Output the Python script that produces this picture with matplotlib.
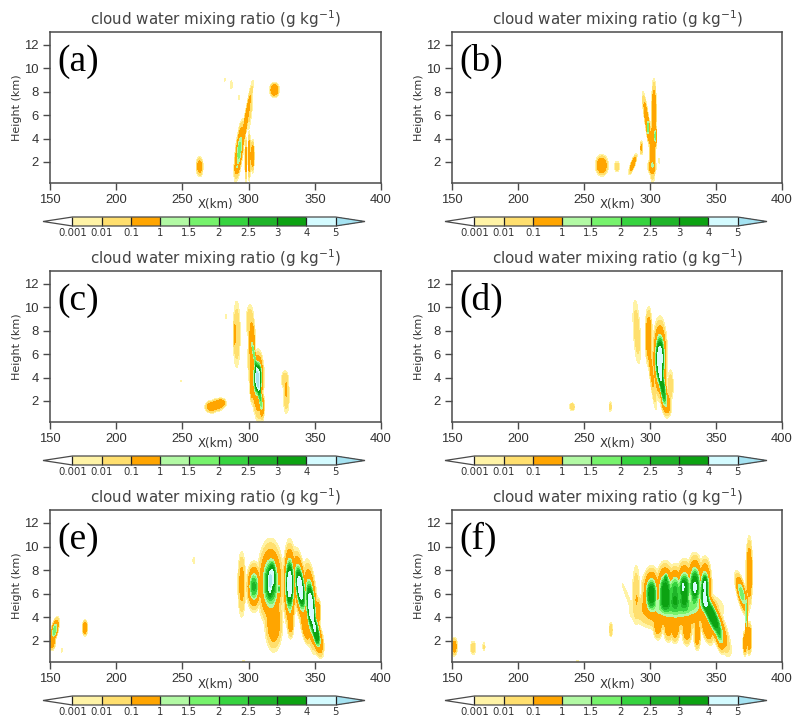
import numpy as np
import matplotlib as mpl
mpl.use('Agg')
import matplotlib.pyplot as plt

# colour bar
levels = [0.001, 0.01, 0.1, 1, 1.5, 2, 2.5, 3, 4, 5]
level_labels = ['0.001', '0.01', '0.1', '1', '1.5', '2', '2.5', '3', '4', '5']
band_colors = ['#ffffff', '#fff3a6', '#ffdf6e', '#ffa500', '#b2f9a4', '#76f26c',
               '#36d33f', '#1fb429', '#0ca212', '#d4fbff', '#a5e3f2']

panel_letters = ['(a)', '(b)', '(c)', '(d)', '(e)', '(f)']
x_ticks = [150, 200, 250, 300, 350, 400]
z_ticks = [2, 4, 6, 8, 10, 12]

# cloud cells:
# x (km), z (km), half width, half depth, peak (g/kg), tilt (km x per km z)
cells_a = [
    (263, 1.6, 1.5, 0.5, 0.25, 0),
    (319.5, 8.15, 2.0, 0.34, 0.9, 0),
    (293, 3.0, 1.6, 1.4, 1.7, 1),
    (291, 1.45, 1.2, 0.32, 0.5, 0),
    (298, 5.5, 0.9, 1.9, 0.4, 1.5),
    (301, 6.6, 1.2, 1.3, 0.02, 0.8),
    (298, 2.2, 0.4, 1.1, 0.25, 0),
    (300.5, 2.5, 0.5, 1.2, 0.4, 0),
    (303, 2.5, 0.7, 0.8, 0.4, 0),
    (282, 9.0, 0.3, 0.1, 0.005, 0),
    (287, 8.6, 0.5, 0.25, 0.01, 0),
    (293, 7.5, 0.4, 0.15, 0.005, 0),
]
cells_b = [
    (263.5, 1.7, 2.7, 0.5, 0.7, 0),
    (275, 1.6, 1.3, 0.3, 0.03, 0),
    (287, 1.8, 1.0, 0.5, 0.4, 2.9),
    (293.5, 3.2, 0.6, 0.35, 0.15, 0),
    (303, 6.2, 1.0, 1.6, 0.6, 0),
    (302, 3.0, 1.3, 1.5, 0.9, 0),
    (304, 4.2, 0.5, 0.6, 1.7, 0),
    (301.5, 1.6, 1.7, 0.4, 0.7, 0),
    (298, 5.3, 1.0, 1.5, 0.5, -1.3),
    (298.5, 4.9, 0.5, 0.6, 1.4, 0),
    (307, 2.1, 0.4, 0.15, 0.01, 0),
]
cells_c = [
    (272, 1.5, 2.8, 0.3, 0.4, 0),
    (276, 1.65, 3.0, 0.3, 0.4, 0),
    (279, 1.8, 2.3, 0.25, 0.5, 0),
    (291, 7.7, 1.7, 1.8, 0.05, 0),
    (289.5, 7.7, 0.5, 1.0, 0.15, 0),
    (283, 9.2, 0.3, 0.15, 0.004, 0),
    (301, 8.8, 1.8, 0.9, 0.05, 0),
    (302.5, 7.0, 1.4, 1.3, 0.6, 0),
    (307, 4.0, 2.4, 1.2, 4.9, 0),
    (304.5, 5.7, 0.7, 1.2, 1.6, -1.5),
    (308.5, 2.5, 1.0, 1.1, 1.9, -1),
    (305, 3.5, 2.4, 1.9, 0.6, -1),
    (310, 1.6, 1.1, 0.7, 0.6, 0),
    (302.5, 3.0, 0.8, 0.7, 0.3, 0),
    (327.5, 3.8, 1.7, 0.5, 0.05, 0),
    (328.5, 2.5, 1.4, 1.0, 0.05, 0),
    (328.5, 3.0, 0.5, 0.6, 0.15, 0),
    (249, 3.7, 0.4, 0.08, 0.003, 0),
]
cells_d = [
    (290, 7.9, 1.7, 1.8, 0.03, -0.5),
    (299, 7.5, 1.5, 1.4, 0.5, 0),
    (301, 4.7, 1.1, 2.0, 0.15, -1),
    (307.5, 5.6, 2.9, 1.8, 4.9, 0),
    (309.5, 3.2, 1.7, 1.3, 3, -1.2),
    (312, 1.9, 2.2, 0.7, 0.8, -1),
    (315.5, 3.3, 1.4, 0.9, 0.03, 0),
    (311, 3.4, 0.9, 0.7, 0.3, 0),
    (270, 1.5, 0.6, 0.3, 0.02, 0),
    (241, 1.5, 1.2, 0.2, 0.06, 0),
]
cells_e = [
    (294.8, 6.8, 1.7, 1.6, 0.2, 0),
    (304, 6.6, 3.0, 1.1, 2.6, 0),
    (316.5, 6.9, 5.2, 1.9, 3.2, 0),
    (317.8, 7.6, 2.0, 1.0, 1.7, 0),
    (316, 6.8, 1.2, 0.9, 1.7, 0),
    (323, 6.4, 0.8, 0.3, 1.7, 0),
    (319, 3.6, 3.8, 1.4, 0.5, 0),
    (331, 6.8, 2.6, 1.9, 4.8, 0),
    (331.7, 3.8, 1.5, 0.9, 0.5, 0),
    (339, 6.5, 2.7, 1.7, 4.8, -1),
    (347, 4.9, 2.7, 2.0, 4.8, -0.7),
    (351, 2.7, 2.0, 1.0, 3.4, -1),
    (353, 2.0, 2.0, 0.8, 0.8, -1),
    (343, 3.2, 2.0, 0.9, 0.5, -1.5),
    (352.5, 4.4, 1.1, 0.7, 0.5, 0),
    (258.7, 8.8, 0.6, 0.2, 0.01, 0),
    (176.4, 3.1, 1.1, 0.38, 0.5, 0),
    (153.5, 2.9, 1.5, 0.6, 1.8, 1.8),
    (151, 1.9, 1.8, 0.4, 0.6, 0),
    (159, 1.2, 0.3, 0.12, 0.01, 0),
    (296, 0.25, 0.6, 0.08, 0.01, 0),
]
cells_f = [
    (301, 6.0, 3.6, 1.2, 3.4, 0),
    (311.5, 6.2, 4.0, 1.3, 3.5, 0),
    (319, 6.2, 3.2, 1.2, 2.6, 0),
    (326, 6.4, 3.6, 1.3, 3.5, 0),
    (334, 6.7, 3.4, 1.4, 3.6, 0),
    (341.6, 6.4, 2.8, 1.4, 3.4, 0),
    (312, 7.35, 1.0, 0.3, 1.0, 0),
    (325, 6.6, 0.9, 0.4, 1.0, 0),
    (334, 6.5, 1.1, 0.5, 1.0, 0),
    (341.6, 6.8, 1.2, 0.6, 1.0, 0),
    (320, 4.9, 18, 0.8, 1.6, 0),
    (320, 4.4, 19, 0.9, 0.5, 0),
    (306, 3.5, 2.2, 0.8, 0.4, 0),
    (314, 3.3, 2.2, 0.8, 0.4, 0),
    (319, 3.2, 2.2, 0.8, 0.4, 0),
    (328, 3.0, 2.2, 0.8, 0.4, 0),
    (335.8, 2.6, 1.5, 0.8, 0.4, 0),
    (347, 4.1, 3.9, 1.7, 3.6, -3.6),
    (353, 2.2, 1.9, 0.7, 0.9, -1.5),
    (343, 3.1, 2.4, 0.8, 0.5, -2),
    (289.5, 5.9, 1.8, 1.6, 0.04, 0),
    (289.8, 5.5, 0.4, 0.4, 0.15, 0),
    (283, 5.7, 0.7, 0.9, 0.01, -3.4),
    (295, 6.1, 1.1, 1.0, 0.015, 0),
    (270.4, 2.95, 0.7, 0.4, 0.05, 0),
    (375.2, 7.8, 1.4, 1.7, 0.6, 0),
    (375.2, 2.2, 1.1, 0.8, 0.5, 0),
    (373, 4.3, 0.5, 1.4, 1.6, 0),
    (372, 1.8, 0.9, 0.6, 0.5, 0),
    (369.5, 6.0, 2.0, 1.0, 1.7, -2),
    (151.8, 1.5, 1.3, 0.45, 0.3, 0),
    (166, 1.4, 1.3, 0.38, 0.03, 0),
    (174.2, 1.5, 0.6, 0.25, 0.012, 0),
    (245, 0.25, 0.6, 0.08, 0.01, 0),
]
panel_cells = [cells_a, cells_b, cells_c, cells_d, cells_e, cells_f]

W, H = 792, 717
LEFTS = [(50, 381), (452, 782)]
ROWS = [(32, 183), (271, 422), (510, 662)]
GREY = '#4a4a4a'


def px_axes(fig, x0, x1, y0, y1):
    # pixel box (from the top left) to figure fractions
    return fig.add_axes([x0 / W, 1 - y1 / H, (x1 - x0) / W, (y1 - y0) / H])


xx = np.arange(150, 400.25, 0.25)
zz = np.arange(0.2, 13.12, 0.04)
X, Z = np.meshgrid(xx, zz)

fig = plt.figure(figsize=(W / 100, H / 100), dpi=100)

for i, cells in enumerate(panel_cells):
    x0, x1 = LEFTS[i % 2]
    y0, y1 = ROWS[i // 2]
    ax = px_axes(fig, x0, x1, y0, y1)

    # each cell is a flat topped lump, summed over the panel
    field = np.zeros_like(X)
    for cx, cz, sx, sz, peak, tilt in cells:
        r2 = ((X - cx - tilt * (Z - cz)) / sx) ** 2 + ((Z - cz) / sz) ** 2
        field += peak * np.exp(-r2 ** 1.5)

    cs = ax.contourf(X, Z, field, levels=levels, colors=band_colors, extend='both')

    ax.set_xlim(150, 400)
    ax.set_ylim(0.2, 13.1)
    ax.set_xticks(x_ticks)
    ax.set_yticks(z_ticks)
    ax.tick_params(length=5, width=1, color=GREY, labelcolor='#333333', pad=3)
    for lab in ax.get_xticklabels() + ax.get_yticklabels():
        lab.set_family('Liberation Sans')
        lab.set_fontsize(9.4)
    for s in ax.spines.values():
        s.set_color(GREY)
        s.set_linewidth(1.1)

    ax.set_title(r'cloud water mixing ratio (g kg$^{-1}$)', fontsize=10.9,
                 color='#444444', pad=5)
    ax.set_ylabel('Height (km)', fontsize=8, color='#333333', labelpad=2)
    ax.text(0.5, -0.145, 'X(km)', transform=ax.transAxes, ha='center', va='center',
            fontsize=8.5, color='#333333')
    ax.text(0.022, 0.745, panel_letters[i], transform=ax.transAxes,
            family='Liberation Serif', fontsize=27, color='black')

    # colour bar with triangular ends
    cax = px_axes(fig, x0 - 7, x0 + 315, y1 + 34, y1 + 43)
    cbar = fig.colorbar(cs, cax=cax, orientation='horizontal', spacing='uniform',
                        drawedges=True, extendfrac=0.112)
    cbar.set_ticks(levels, labels=level_labels)
    cbar.ax.tick_params(length=0, pad=1.5, labelsize=7.3, labelcolor='#333333')
    cbar.ax.minorticks_off()
    cbar.outline.set_edgecolor(GREY)
    cbar.outline.set_linewidth(0.9)
    cbar.dividers.set_color('#222222')
    cbar.dividers.set_linewidth(0.9)

fig.savefig('out.png', dpi=100)
plt.close()
